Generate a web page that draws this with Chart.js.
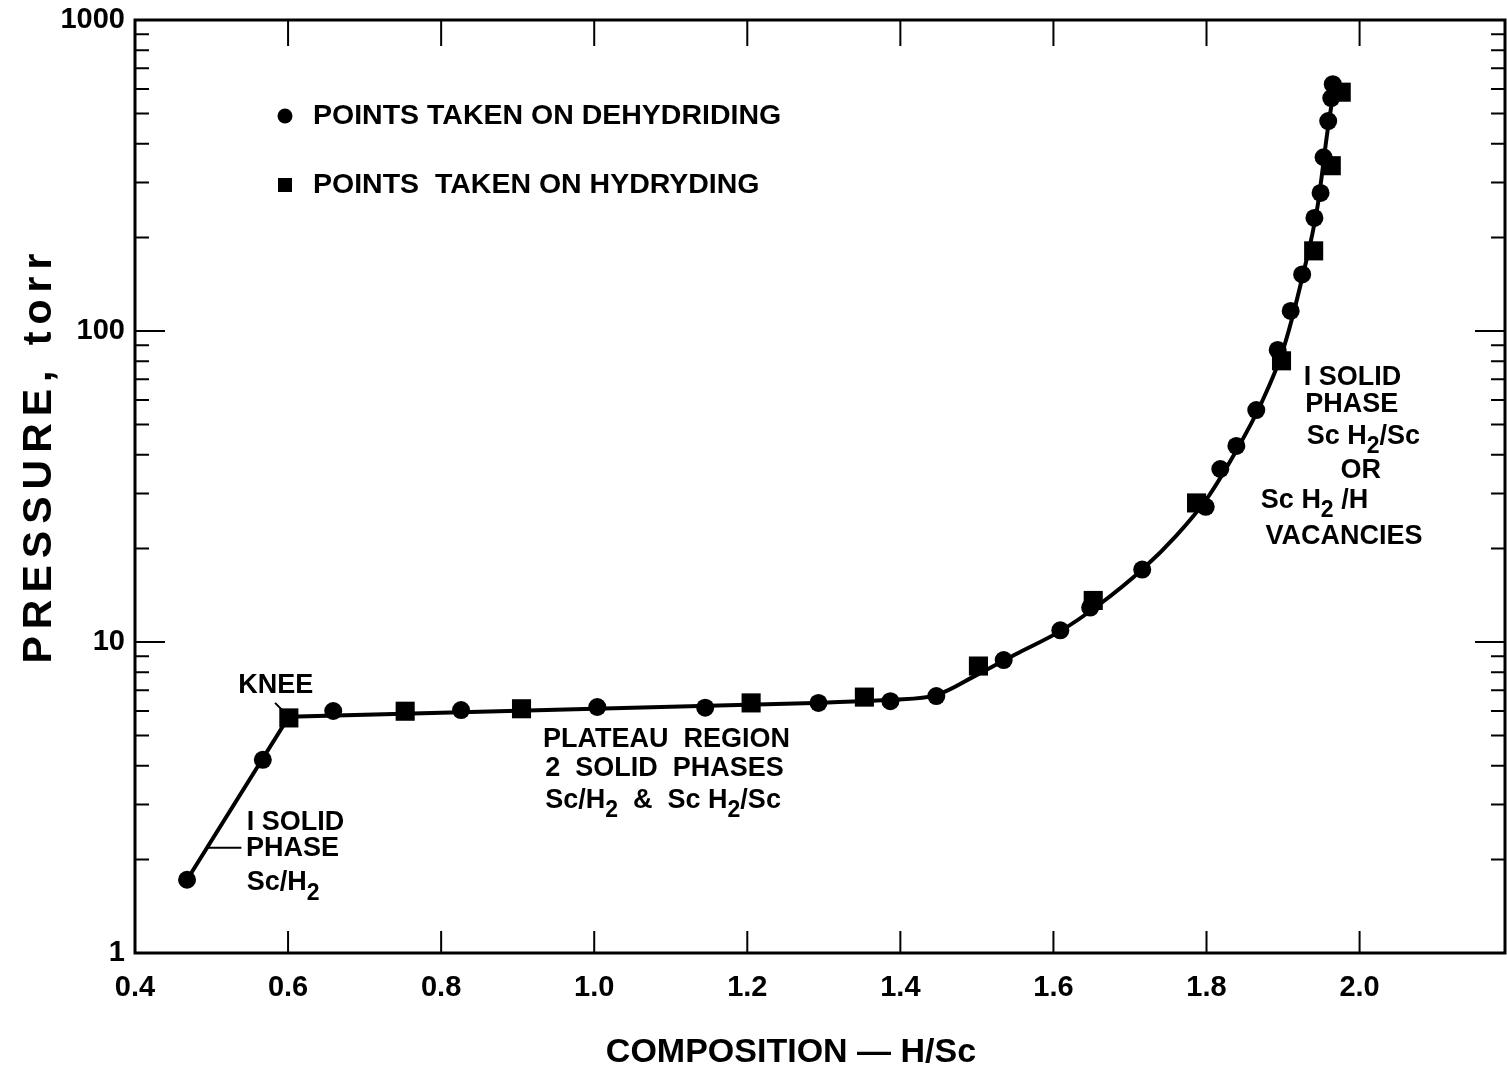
<!DOCTYPE html>
<html>
<head>
<meta charset="utf-8">
<title>Sc-H isotherm</title>
<script src="https://cdn.jsdelivr.net/npm/chart.js@4.4.1/dist/chart.umd.min.js"></script>
<style>
  html, body { margin: 0; padding: 0; background: #fff; overflow: hidden; }
  canvas { display: block; }
</style>
</head>
<body>
<canvas id="isotherm" width="1507" height="1074"></canvas>
<script>
// composition H/Sc and pressure in torr
const dehydX = [0.468, 0.567, 0.659, 0.826, 1.004, 1.145, 1.293, 1.387, 1.447, 1.535, 1.609, 1.648, 1.716,
  1.799, 1.818, 1.839, 1.865, 1.893, 1.910, 1.925, 1.941, 1.949, 1.953, 1.959, 1.963, 1.965];
const dehydP = [1.72, 4.18, 6.0, 6.04, 6.18, 6.15, 6.37, 6.45, 6.7, 8.75, 10.9, 12.9, 17.1,
  27.2, 36, 42.7, 55.7, 86.9, 116, 152, 231, 278, 362, 473, 561, 622];

const hydX = [0.601, 0.753, 0.905, 1.205, 1.353, 1.502, 1.652, 1.787, 1.898, 1.940, 1.963, 1.976];
const hydP = [5.7, 5.99, 6.1, 6.37, 6.65, 8.37, 13.6, 28, 80.2, 181, 340, 586];

// the drawn curve: straight single-phase line + plateau, then the curved branch
const lineX = [0.468, 0.601, 1.30];
const lineP = [1.72, 5.75, 6.38];
const curveX = [1.30, 1.387, 1.447, 1.50, 1.55, 1.609, 1.66, 1.716, 1.76, 1.80, 1.84, 1.87, 1.90, 1.925, 1.945, 1.958, 1.968];
const curveP = [6.38, 6.52, 6.75, 7.84, 9.12, 10.84, 13.2, 17.1, 21.9, 28.8, 41.7, 57.5, 87, 148, 251, 437, 631];

const xTicks = [0.4, 0.6, 0.8, 1.0, 1.2, 1.4, 1.6, 1.8, 2.0];
const yTicks = [1, 10, 100, 1000];

const legendLabels = ['POINTS TAKEN ON DEHYDRIDING', 'POINTS  TAKEN ON HYDRYDING'];

// text notes on the plot, anchored in data units ("_2" = subscript)
const notes = [
  { t: 'KNEE', x: 0.535, p: 7.22 },
  { t: 'I SOLID', x: 0.546, p: 2.62 },
  { t: 'PHASE', x: 0.545, p: 2.16 },
  { t: 'Sc/H_2', x: 0.546, p: 1.68 },
  { t: 'PLATEAU  REGION', x: 0.933, p: 4.84 },
  { t: '2  SOLID  PHASES', x: 0.936, p: 3.93 },
  { t: 'Sc/H_2  &  Sc H_2/Sc', x: 0.936, p: 3.10 },
  { t: 'I SOLID', x: 1.927, p: 70.6 },
  { t: 'PHASE', x: 1.929, p: 57.8 },
  { t: 'Sc H_2/Sc', x: 1.931, p: 45.9 },
  { t: 'OR', x: 1.975, p: 35.5 },
  { t: 'Sc H_2 /H', x: 1.871, p: 28.6 },
  { t: 'VACANCIES', x: 1.877, p: 21.8 }
];
const leaders = [
  [0.583, 6.37, 0.600, 5.78],
  [0.495, 2.18, 0.539, 2.18]
];

const FONT = '"Liberation Sans", Arial, sans-serif';

function pts(xs, ys) {
  return xs.map((x, i) => ({ x: x, y: ys[i] }));
}

function drawRich(ctx, str, x, y, size) {
  const parts = str.split(/_(\d)/);
  let cx = x;
  parts.forEach((part, i) => {
    if (!part) return;
    const sub = i % 2 === 1;
    ctx.font = 'bold ' + (sub ? Math.round(size * 0.85) : size) + 'px ' + FONT;
    ctx.fillText(part, cx, sub ? y + size * 0.4 : y);
    cx += ctx.measureText(part).width;
  });
}

const decorations = {
  id: 'decorations',
  afterDraw(chart) {
    const { ctx, chartArea: a, scales: { x, y } } = chart;
    ctx.save();
    ctx.strokeStyle = '#000';
    ctx.fillStyle = '#000';

    // frame
    ctx.lineWidth = 3;
    ctx.strokeRect(a.left, a.top, a.right - a.left, a.bottom - a.top);

    // inward tick marks on all four sides
    ctx.lineWidth = 2;
    ctx.beginPath();
    xTicks.forEach(v => {
      if (v === x.min) return;
      const px = x.getPixelForValue(v);
      ctx.moveTo(px, a.bottom); ctx.lineTo(px, a.bottom - 22);
      ctx.moveTo(px, a.top); ctx.lineTo(px, a.top + 26);
    });
    for (let d = 1; d < 1000; d *= 10) {
      for (let m = 2; m <= 10; m++) {
        if (d * m >= 1000) continue;
        const py = y.getPixelForValue(d * m);
        const len = m === 10 ? 30 : 14;
        ctx.moveTo(a.left, py); ctx.lineTo(a.left + len, py);
        ctx.moveTo(a.right, py); ctx.lineTo(a.right - len, py);
      }
    }
    ctx.stroke();

    // leader lines
    ctx.beginPath();
    leaders.forEach(l => {
      ctx.moveTo(x.getPixelForValue(l[0]), y.getPixelForValue(l[1]));
      ctx.lineTo(x.getPixelForValue(l[2]), y.getPixelForValue(l[3]));
    });
    ctx.stroke();

    // notes
    ctx.textBaseline = 'middle';
    ctx.textAlign = 'left';
    notes.forEach(n => drawRich(ctx, n.t, x.getPixelForValue(n.x), y.getPixelForValue(n.p), 27));

    // legend
    const lx = a.left + 150;
    ctx.beginPath();
    ctx.arc(lx, a.top + 96, 7.5, 0, Math.PI * 2);
    ctx.fill();
    ctx.fillRect(lx - 7, a.top + 158, 14, 14);
    ctx.font = 'bold 28.5px ' + FONT;
    ctx.fillText(legendLabels[0], lx + 28, a.top + 96);
    ctx.fillText(legendLabels[1], lx + 28, a.top + 165);

    // axis titles
    ctx.font = 'bold 34px ' + FONT;
    ctx.textAlign = 'center';
    ctx.fillText('COMPOSITION — H/Sc', 791, 1053);
    ctx.save();
    ctx.translate(40, 455);
    ctx.rotate(-Math.PI / 2);
    ctx.font = 'bold 41px ' + FONT;
    if ('letterSpacing' in ctx) ctx.letterSpacing = '7px';
    ctx.fillText('PRESSURE, torr', 0, 0);
    ctx.restore();

    ctx.restore();
  }
};

new Chart(document.getElementById('isotherm'), {
  type: 'scatter',
  data: {
    datasets: [
      {
        label: legendLabels[0],
        data: pts(dehydX, dehydP),
        pointStyle: 'circle',
        pointRadius: 9,
        backgroundColor: '#000',
        borderColor: '#000',
        borderWidth: 0
      },
      {
        label: legendLabels[1],
        data: pts(hydX, hydP),
        pointStyle: 'rect',
        pointRadius: 13.5,
        backgroundColor: '#000',
        borderColor: '#000',
        borderWidth: 0
      },
      {
        label: 'line',
        data: pts(lineX, lineP),
        showLine: true,
        pointRadius: 0,
        borderColor: '#000',
        borderWidth: 4,
        tension: 0
      },
      {
        label: 'curve',
        data: pts(curveX, curveP),
        showLine: true,
        pointRadius: 0,
        borderColor: '#000',
        borderWidth: 4,
        cubicInterpolationMode: 'monotone'
      }
    ]
  },
  options: {
    responsive: false,
    animation: false,
    devicePixelRatio: 1,
    layout: { autoPadding: false, padding: { top: 20, right: 2, left: 0, bottom: 0 } },
    plugins: {
      legend: { display: false },
      tooltip: { enabled: false }
    },
    scales: {
      x: {
        type: 'linear',
        min: 0.4,
        max: 2.19,
        grid: { display: false, drawTicks: false },
        border: { display: false },
        ticks: {
          color: '#000',
          font: { family: FONT, size: 29, weight: 'bold' },
          padding: 18,
          maxRotation: 0,
          autoSkip: false,
          callback: v => v.toFixed(1)
        },
        afterBuildTicks: s => { s.ticks = xTicks.map(v => ({ value: v })); },
        afterFit: s => { s.height = 121; s.paddingLeft = 0; s.paddingRight = 0; }
      },
      y: {
        type: 'logarithmic',
        min: 1,
        max: 1000,
        grid: { display: false, drawTicks: false },
        border: { display: false },
        ticks: {
          color: '#000',
          font: { family: FONT, size: 29, weight: 'bold' },
          padding: 10,
          autoSkip: false,
          callback: v => String(v)
        },
        afterBuildTicks: s => { s.ticks = yTicks.map(v => ({ value: v })); },
        afterFit: s => { s.width = 135; s.paddingTop = 0; s.paddingBottom = 0; }
      }
    }
  },
  plugins: [decorations]
});
</script>
</body>
</html>
